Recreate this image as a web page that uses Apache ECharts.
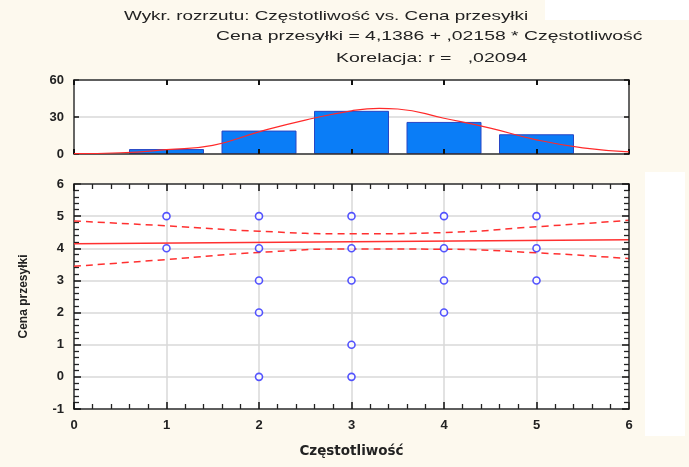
<!DOCTYPE html>
<html><head><meta charset="utf-8">
<script src="https://cdn.jsdelivr.net/npm/echarts@6/dist/echarts.min.js"></script>
<style>html,body{margin:0;padding:0;background:#fdf9ee}#c{width:689px;height:467px}</style>
</head><body><div id="c"></div>
<script>
// ---- data ----
const histX = [1, 2, 3, 4, 5];
const histCounts = [4, 19, 35, 26, 16];
const normalX = [0, 0.5, 1, 1.5, 2, 2.5, 3, 3.3, 3.5, 4, 4.5, 5, 5.5, 6];
const normalY = [0.3, 1, 3.5, 7, 18, 27.5, 35, 37, 36.5, 29, 21, 11.5, 5, 1.8];
const scatterX = [1, 1, 2, 2, 2, 2, 2, 3, 3, 3, 3, 3, 4, 4, 4, 4, 5, 5, 5];
const scatterY = [5, 4, 5, 4, 3, 2, 0, 5, 4, 3, 1, 0, 5, 4, 3, 2, 5, 4, 3];
const regX = [0, 6];
const regY = [4.139, 4.268];
const bandX = [0, 1, 2, 3, 4, 5, 6];
const bandUpper = [4.85, 4.70, 4.53, 4.45, 4.49, 4.67, 4.87];
const bandLower = [3.44, 3.65, 3.87, 3.98, 3.97, 3.86, 3.68];
const histYTicks = [0, 30, 60];
const titleLines = [
  'Wykr. rozrzutu: Częstotliwość vs. Cena przesyłki',
  'Cena przesyłki = 4,1386 + ,02158 * Częstotliwość',
  'Korelacja: r =   ,02094'
];
const xName = 'Częstotliwość';
const yName = 'Cena przesyłki';

const zip = (a, b) => a.map((v, i) => [v, b[i]]);
const FONT = 'Liberation Sans';
const frame = () => ({ show: true, onZero: false, lineStyle: { color: '#333', width: 1.5 } });
const labelStyle = () => ({ margin: 10, color: '#222', fontSize: 13, fontFamily: FONT, fontWeight: 'bold' });
const tick = (len, w) => ({ show: true, inside: true, length: len, lineStyle: { color: '#111', width: w } });
const minor = () => ({ show: true, splitNumber: 5, length: 5, lineStyle: { color: '#222', width: 1.3 } });
const split = () => ({ show: true, lineStyle: { color: '#d9d9d9', width: 1.5 } });

const chart = echarts.init(document.getElementById('c'));

chart.setOption({
  backgroundColor: '#fdf9ee',
  animation: false,
  graphic: [
    { type: 'rect', shape: { x: 545, y: 0, width: 144, height: 20 }, style: { fill: '#ffffff' }, z: -10 },
    { type: 'rect', shape: { x: 645, y: 172, width: 40, height: 264 }, style: { fill: '#ffffff' }, z: -10 },
    { type: 'text', x: 124, y: 16, scaleX: 1.45, style: { text: titleLines[0], font: '13px "Liberation Sans"', fill: '#222', textVerticalAlign: 'middle' } },
    { type: 'text', x: 216, y: 36, scaleX: 1.49, style: { text: titleLines[1], font: '13px "Liberation Sans"', fill: '#222', textVerticalAlign: 'middle' } },
    { type: 'text', x: 336, y: 58, scaleX: 1.5, style: { text: titleLines[2], font: '13px "Liberation Sans"', fill: '#222', textVerticalAlign: 'middle' } }
  ],
  grid: [
    { left: 74, right: 60, top: 80, height: 74, backgroundColor: '#fff', show: true, borderWidth: 0 },
    { left: 74, right: 60, top: 184, height: 225, backgroundColor: '#fff', show: true, borderWidth: 0 }
  ],
  xAxis: [
    { gridIndex: 0, type: 'value', min: 0, max: 6, interval: 1, position: 'bottom', z: 4,
      axisLine: frame(), axisTick: tick(5, 2), axisLabel: { show: false }, splitLine: { show: false } },
    { gridIndex: 0, type: 'value', min: 0, max: 6, interval: 1, position: 'top', z: 4,
      axisLine: frame(), axisTick: tick(5, 2), axisLabel: { show: false }, splitLine: { show: false } },
    { gridIndex: 1, type: 'value', min: 0, max: 6, interval: 1, position: 'bottom',
      name: xName, nameLocation: 'middle', nameGap: 35,
      nameTextStyle: { color: '#222', fontSize: 13.5, fontFamily: 'DejaVu Sans', fontWeight: 'bold' },
      axisLine: frame(), axisTick: tick(7, 1.5), minorTick: minor(),
      axisLabel: labelStyle(), splitLine: split() },
    { gridIndex: 1, type: 'value', min: 0, max: 6, interval: 1, position: 'top', z: 4,
      axisLine: frame(), axisTick: tick(7, 1.5), minorTick: minor(),
      axisLabel: { show: false }, splitLine: { show: false } }
  ],
  yAxis: [
    { gridIndex: 0, type: 'value', min: histYTicks[0], max: histYTicks[2], interval: 30, position: 'left',
      axisLine: frame(), axisTick: tick(5, 1.5),
      axisLabel: labelStyle(), splitLine: split() },
    { gridIndex: 0, type: 'value', min: histYTicks[0], max: histYTicks[2], interval: 30, position: 'right', z: 4,
      axisLine: frame(), axisTick: tick(5, 1.5), axisLabel: { show: false }, splitLine: { show: false } },
    { gridIndex: 1, type: 'value', min: -1, max: 6, interval: 1, position: 'left',
      name: yName, nameLocation: 'middle', nameGap: 44, nameRotate: 90,
      nameTextStyle: { color: '#222', fontSize: 12, fontFamily: FONT, fontWeight: 'bold' },
      axisLine: frame(), axisTick: tick(7, 1.5), minorTick: minor(),
      axisLabel: labelStyle(), splitLine: split() },
    { gridIndex: 1, type: 'value', min: -1, max: 6, interval: 1, position: 'right', z: 4,
      axisLine: frame(), axisTick: tick(7, 1.5), minorTick: minor(),
      axisLabel: { show: false }, splitLine: { show: false } }
  ],
  series: [
    { type: 'bar', xAxisIndex: 0, yAxisIndex: 0, data: zip(histX, histCounts), barWidth: 75,
      itemStyle: { color: '#0a7df7', borderColor: '#2846c4', borderWidth: 1 } },
    { type: 'line', xAxisIndex: 0, yAxisIndex: 0, data: zip(normalX, normalY), smooth: true,
      showSymbol: false, lineStyle: { color: '#ff2a2a', width: 1.2 }, z: 5 },
    { type: 'line', xAxisIndex: 2, yAxisIndex: 2, data: zip(bandX, bandUpper), smooth: true,
      showSymbol: false, lineStyle: { color: '#ff3030', width: 1.5, type: [7, 5] }, z: 3 },
    { type: 'line', xAxisIndex: 2, yAxisIndex: 2, data: zip(bandX, bandLower), smooth: true,
      showSymbol: false, lineStyle: { color: '#ff3030', width: 1.5, type: [7, 5] }, z: 3 },
    { type: 'line', xAxisIndex: 2, yAxisIndex: 2, data: zip(regX, regY),
      showSymbol: false, lineStyle: { color: '#ff3030', width: 1.5 }, z: 3 },
    { type: 'scatter', xAxisIndex: 2, yAxisIndex: 2, data: zip(scatterX, scatterY),
      symbol: 'circle', symbolSize: 7,
      itemStyle: { color: '#ffffff', borderColor: '#2a2aff', borderWidth: 1.6 }, z: 6 }
  ]
});
</script></body></html>
